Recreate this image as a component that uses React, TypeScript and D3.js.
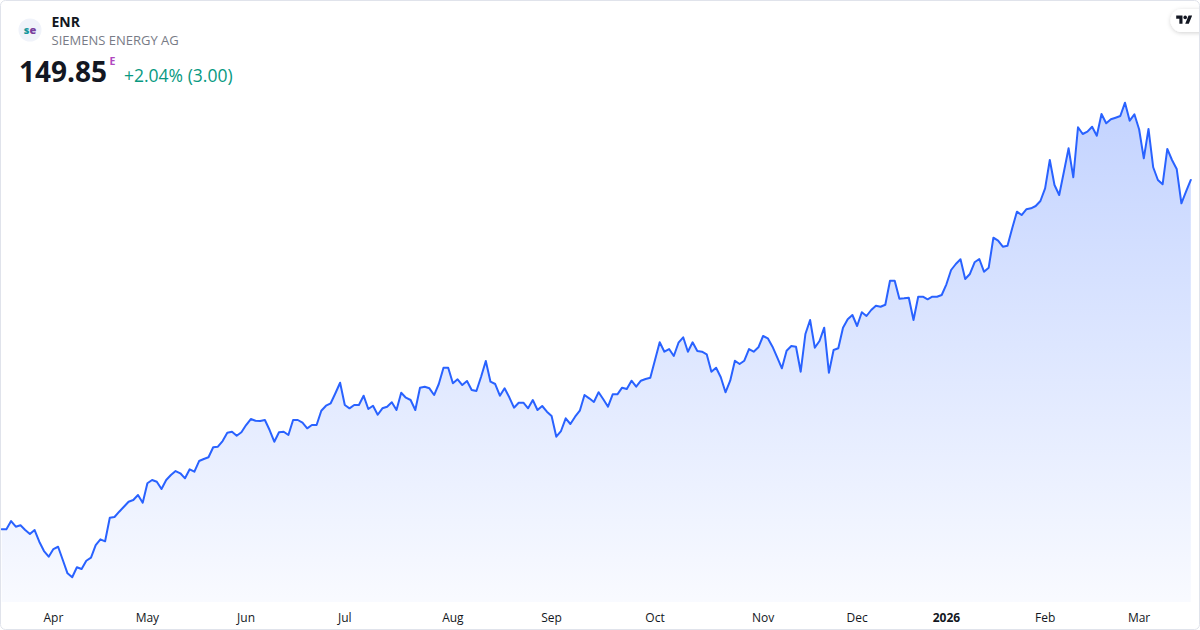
import React, { useEffect } from "react";
import * as d3 from "d3";

// Daily closes (EUR), 17 Mar 2025 – 17 Mar 2026, trading-day index based
const closes: number[] = [
  57.29, 57.29, 59.48, 57.97, 58.35, 57.10, 56.04, 57.10, 54.00, 51.53,
  50.02, 52.06, 52.67, 49.15, 45.63, 44.57, 47.22, 46.76, 48.96, 49.76,
  53.12, 54.64, 54.11, 60.36, 60.54, 61.95, 63.27, 64.60, 65.05, 66.37,
  64.33, 69.48, 70.35, 69.90, 67.96, 70.35, 71.67, 72.73, 72.13, 70.80,
  73.19, 72.55, 75.38, 75.91, 76.37, 79.02, 79.17, 80.68, 82.88, 83.15,
  82.09, 82.99, 84.92, 86.51, 86.06, 85.98, 86.25, 83.60, 80.50, 82.99,
  83.15, 82.27, 86.25, 86.25, 85.53, 84.05, 84.92, 84.92, 88.71, 90.04,
  90.68, 93.33, 96.13, 90.22, 89.35, 90.22, 90.22, 92.69, 89.16, 90.04,
  87.65, 89.35, 89.77, 90.94, 88.90, 93.48, 92.16, 91.55, 88.90, 94.81,
  95.07, 94.65, 92.87, 95.79, 100.11, 100.11, 95.98, 97.04, 95.52, 96.58,
  94.20, 93.93, 97.72, 101.88, 96.40, 95.79, 92.69, 94.65, 92.27, 89.51,
  90.83, 90.83, 89.35, 91.55, 88.90, 89.96, 88.45, 87.31, 81.82, 83.33,
  86.70, 85.19, 87.12, 88.71, 92.87, 92.00, 91.02, 93.62, 91.74, 89.77,
  93.06, 93.06, 94.81, 94.46, 96.66, 95.07, 96.66, 97.11, 97.46, 102.15,
  106.84, 104.35, 105.06, 103.21, 106.73, 108.17, 104.35, 106.84, 104.53, 104.35,
  103.66, 99.05, 100.11, 97.57, 93.59, 96.66, 101.96, 101.09, 101.96, 105.06,
  104.35, 105.52, 108.51, 107.90, 105.67, 102.87, 99.95, 104.61, 105.86, 105.67,
  99.05, 109.04, 112.75, 105.41, 107.18, 110.71, 98.78, 104.80, 105.25, 110.71,
  112.94, 114.07, 111.16, 114.79, 113.81, 115.40, 116.54, 116.27, 116.80, 123.16,
  123.16, 118.39, 118.50, 118.66, 112.75, 118.92, 118.92, 118.24, 118.92, 118.92,
  119.37, 122.21, 126.00, 127.59, 128.84, 123.61, 124.94, 128.04, 128.91, 125.55,
  126.61, 134.56, 133.76, 132.17, 132.44, 137.05, 141.45, 140.57, 142.09, 142.35,
  142.96, 144.28, 147.65, 155.15, 148.52, 145.87, 152.05, 158.25, 150.57, 163.82,
  162.04, 162.65, 163.97, 161.59, 167.34, 164.88, 165.94, 166.36, 166.81, 170.33,
  165.56, 167.26, 163.29, 155.60, 163.37, 153.22, 149.85, 148.71, 158.07, 155.15,
  152.77, 143.68, 146.85, 149.85,
];

const tickLabels: string[] = ["Apr", "May", "Jun", "Jul", "Aug", "Sep", "Oct", "Nov", "Dec", "2026", "Feb", "Mar"];
const tickIndex: number[] = [11, 31, 52, 73, 96, 117, 139, 162, 182, 201, 222, 242];
const tickBold: boolean[] = [false, false, false, false, false, false, false, false, false, true, false, false];

const symbol = "ENR";
const company = "SIEMENS ENERGY AG";
const lastPrice = "149.85";
const changeText = "+2.04% (3.00)";

const W = 1200;
const H = 630;
const FONT = "'Open Sans', 'Noto Sans', sans-serif";

export default function App() {
  useEffect(() => {
    document.body.style.margin = "0";
  }, []);

  const x = d3.scaleLinear().domain([0, closes.length - 1]).range([1.7, 1190.8]);
  const ext = d3.extent(closes) as [number, number];
  const y = d3.scaleLinear().domain(ext).range([577.3, 102.7]);
  const fillBottom = 602;

  const line = d3
    .line<number>()
    .x((_, i) => x(i))
    .y((d) => y(d));
  const area = d3
    .area<number>()
    .x((_, i) => x(i))
    .y0(fillBottom)
    .y1((d) => y(d));

  return (
    <svg
      width={W}
      height={H}
      viewBox={`0 0 ${W} ${H}`}
      style={{ position: "absolute", left: 0, top: 0, display: "block" }}
      fontFamily={FONT}
    >
      <defs>
        <linearGradient id="areaGrad" gradientUnits="userSpaceOnUse" x1="0" y1={y(ext[1])} x2="0" y2={fillBottom}>
          <stop offset="0" stopColor="#2962FF" stopOpacity={0.28} />
          <stop offset="1" stopColor="#2962FF" stopOpacity={0.03} />
        </linearGradient>
        <filter id="pillShadow" x="-50%" y="-50%" width="200%" height="200%">
          <feDropShadow dx="0" dy="1" stdDeviation="2" floodColor="#000" floodOpacity="0.18" />
        </filter>
        <clipPath id="frameClip">
          <rect x={0.5} y={0.5} width={W - 1} height={H - 1} rx={5} />
        </clipPath>
      </defs>

      <rect x={0} y={0} width={W} height={H} fill="#ffffff" />

      <g clipPath="url(#frameClip)">
        <path d={area(closes) || ""} fill="url(#areaGrad)" />
        <path
          d={line(closes) || ""}
          fill="none"
          stroke="#2962FF"
          strokeWidth={2}
          strokeLinejoin="round"
          strokeLinecap="round"
        />

        {tickLabels.map((t, k) => (
          <text
            key={t}
            x={x(tickIndex[k])}
            y={622}
            textAnchor="middle"
            fontSize={12}
            fontWeight={tickBold[k] ? 700 : 400}
            fill="#131722"
          >
            {t}
          </text>
        ))}

        {/* TradingView badge */}
        <rect x={1170.5} y={9} width={44} height={23} rx={11.5} fill="#ffffff" filter="url(#pillShadow)" />
        <g transform="translate(1176.2,13.8) scale(0.45)" fill="#131722">
          <path d="M14 22H7V11H0V4h14v18zM28 22h-8l7.5-18h8L28 22z" />
          <circle cx={20} cy={8} r={4} />
        </g>
      </g>

      <rect x={0.5} y={0.5} width={W - 1} height={H - 1} rx={5} fill="none" stroke="#e0e3eb" strokeWidth={1} />

      {/* header */}
      <circle cx={30} cy={30} r={11.5} fill="#f0f3fa" />
      <text x={30} y={33.8} textAnchor="middle" fontSize={11} fontWeight={800}>
        <tspan fill="#17979c">s</tspan>
        <tspan fill="#7a3e9d">e</tspan>
      </text>
      <text x={51.5} y={26.5} fontSize={14} fontWeight={700} fill="#131722">
        {symbol}
      </text>
      <text x={51.5} y={45} fontSize={13} fill="#787b86">
        {company}
      </text>
      <text x={19} y={81.5} fontSize={28} fontWeight={700} fill="#131722">
        {lastPrice}
      </text>
      <text x={109.5} y={65} fontSize={10.5} fontWeight={700} fill="#b047c0">
        E
      </text>
      <text x={124} y={81.5} fontSize={17.5} fill="#089981">
        {changeText}
      </text>
    </svg>
  );
}
